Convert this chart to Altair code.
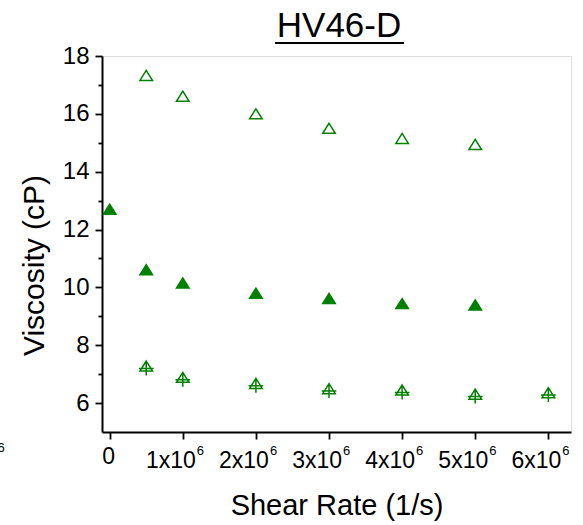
import altair as alt
import pandas as pd

# ---- data ----
rate_open = [0.5e6, 1e6, 2e6, 3e6, 4e6, 5e6]
visc_open = [17.33, 16.61, 16.0, 15.5, 15.15, 14.94]

rate_filled = [0, 0.5e6, 1e6, 2e6, 3e6, 4e6, 5e6]
visc_filled = [12.70, 10.61, 10.15, 9.80, 9.62, 9.44, 9.39]

rate_cross = [0.5e6, 1e6, 2e6, 3e6, 4e6, 5e6, 6e6]
visc_cross = [7.28, 6.89, 6.68, 6.50, 6.45, 6.31, 6.36]

x_ticks = [i * 0.5e6 for i in range(0, 13)]
y_ticks = list(range(6, 19))

x_label_vals = [1e6, 2e6, 3e6, 4e6, 5e6, 6e6]
x_label_base = ["1x10", "2x10", "3x10", "4x10", "5x10", "6x10"]
x_label_exp = ["6", "6", "6", "6", "6", "6"]

GREEN = "#008000"
FONT = "Liberation Sans"

df_open = pd.DataFrame({"rate": rate_open, "visc": visc_open})
df_filled = pd.DataFrame({"rate": rate_filled, "visc": visc_filled})
df_cross = pd.DataFrame({"rate": rate_cross, "visc": visc_cross})
df_lab = pd.DataFrame({"rate": x_label_vals, "base": x_label_base, "exp": x_label_exp})
df_zero = pd.DataFrame({"rate": [0], "t": ["0"]})

xscale = alt.Scale(domain=[-0.105e6, 6.31e6], nice=False, zero=False)
yscale = alt.Scale(domain=[5, 18], nice=False, zero=False)

x_axis = alt.Axis(
    values=x_ticks,
    labels=False,
    tickSize=alt.expr("datum.value % 1000000 == 0 ? 7 : 4"),
    title="Shear Rate (1/s)",
    titleFontSize=29, titleFont=FONT, titleFontWeight="normal", titleColor="black",
    titleBaseline="alphabetic", titleY=82,
    domainColor="black", domainWidth=2, tickColor="black", tickWidth=1.8,
    grid=False,
)
y_axis = alt.Axis(
    values=y_ticks,
    labelExpr="datum.value % 2 == 0 ? datum.value : ''",
    tickSize=alt.expr("datum.value % 2 == 0 ? 7 : 4"),
    title="Viscosity (cP)",
    titleFontSize=30, titleFont=FONT, titleFontWeight="normal", titleColor="black",
    titleAngle=-90, titleAlign="center", titleBaseline="alphabetic",
    titleX=-59, titleY=209,
    labelFontSize=24, labelFont=FONT, labelColor="black", labelPadding=6,
    labelOverlap=False,
    domainColor="black", domainWidth=2, tickColor="black", tickWidth=1.8,
    grid=False,
)

X = alt.X("rate:Q", scale=xscale, axis=x_axis)
Y = alt.Y("visc:Q", scale=yscale, axis=y_axis)

tri_path = "M0,-0.8L1,0.8L-1,0.8Z"
cross_path = "M0,-0.8L1,0.8L-1,0.8Z M0,-0.8L0,1.5 M-1.17,0.37L1.17,0.37"

open_pts = alt.Chart(df_open).mark_point(
    shape=tri_path, size=158, filled=False, stroke=GREEN, strokeWidth=1.5, opacity=1
).encode(x=X, y=Y)

filled_pts = alt.Chart(df_filled).mark_point(
    shape=tri_path, size=158, filled=True, fill=GREEN, stroke=GREEN, strokeWidth=1.5, opacity=1
).encode(x=X, y=Y)

cross_pts = alt.Chart(df_cross).mark_point(
    shape=cross_path, size=158, filled=False, stroke=GREEN, strokeWidth=1.5, opacity=1
).encode(x=X, y=Y)

lab_base = alt.Chart(df_lab).mark_text(
    font=FONT, fontSize=23, align="right", baseline="alphabetic", color="black", dx=13
).encode(x=alt.X("rate:Q", scale=xscale), y=alt.value(412), text="base:N")

lab_exp = alt.Chart(df_lab).mark_text(
    font=FONT, fontSize=13, align="left", baseline="alphabetic", color="black", dx=14
).encode(x=alt.X("rate:Q", scale=xscale), y=alt.value(399), text="exp:N")

lab_zero = alt.Chart(df_zero).mark_text(
    font=FONT, fontSize=23, align="center", baseline="alphabetic", color="black", dx=-1
).encode(x=alt.X("rate:Q", scale=xscale), y=alt.value(408), text="t:N")

title_txt = alt.Chart(pd.DataFrame({"t": ["HV46-D"]})).mark_text(
    font=FONT, fontSize=35, align="center", baseline="alphabetic", color="black"
).encode(x=alt.value(237), y=alt.value(-19), text="t:N")

underline = alt.Chart(pd.DataFrame({"a": [0]})).mark_rule(
    color="black", strokeWidth=2.2
).encode(x=alt.value(173), x2=alt.value(302), y=alt.value(-13))

stray = alt.Chart(pd.DataFrame({"t": ["6"]})).mark_text(
    font=FONT, fontSize=13, align="center", baseline="alphabetic", color="black"
).encode(text="t:N", x=alt.value(-101), y=alt.value(396))

chart = alt.layer(
    open_pts, filled_pts, cross_pts, lab_base, lab_exp, lab_zero, title_txt, underline, stray
).properties(
    width=469,
    height=376,
    autosize=alt.AutoSizeParams(type="none"),
    padding={"left": 102, "top": 56, "right": 12, "bottom": 93},
).configure_view(stroke=None).configure(background="white")

chart.save("out.html", embed_options={"renderer": "svg", "actions": False})
